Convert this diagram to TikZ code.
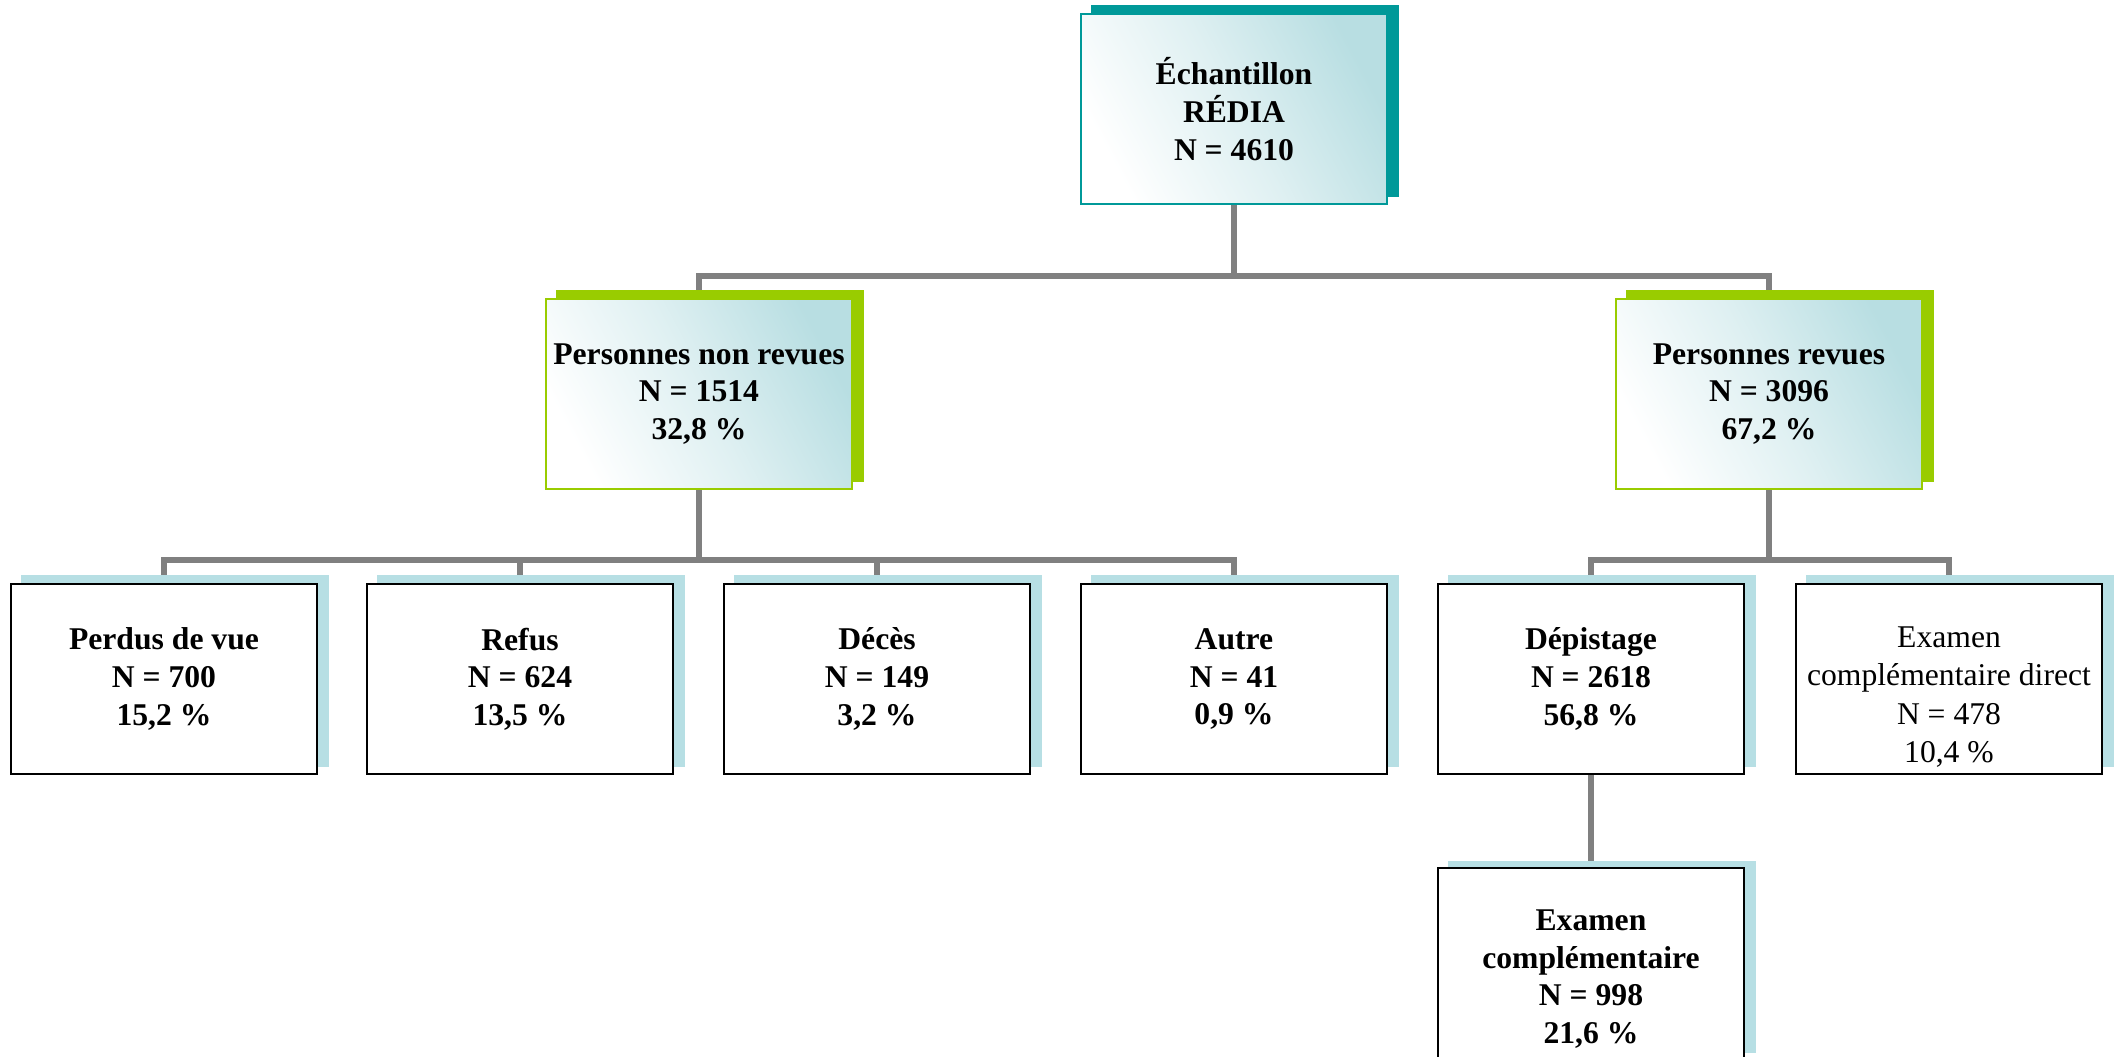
\documentclass[tikz,border=0pt]{standalone}
\usepackage{fontspec}
\setmainfont{Liberation Serif}
\usetikzlibrary{backgrounds,calc}
\definecolor{tealc}{RGB}{0,153,153}
\definecolor{greenc}{RGB}{153,204,0}
\definecolor{lblue}{RGB}{183,223,228}
\definecolor{gradc}{RGB}{184,222,226}
\definecolor{linec}{RGB}{128,128,128}
\begin{document}
\begin{tikzpicture}[x=0.01cm,y=-0.01cm,
  box/.style={rectangle, minimum width=3.06cm, minimum height=1.9cm, inner sep=0pt, align=center, line width=0.02cm},
  bftext/.style={font=\fontsize{9}{10.7}\selectfont\bfseries, align=center},
  rmtext/.style={font=\fontsize{9}{10.9}\selectfont, align=center},
  gradbox/.style={box, bftext, top color=gradc, bottom color=white, middle color=gradc!45!white, shading angle=-62},
  topbox/.style={gradbox, draw=tealc},
  midbox/.style={gradbox, draw=greenc},
  lowbox/.style={box, bftext, draw=black, fill=white},
  conn/.style={draw=linec, line width=0.055cm},
  ]
\useasboundingbox (0,0) rectangle (2114,1056);

% nodes
\node[topbox] (top) at (1234,109) {Échantillon\\RÉDIA\\N = 4610};
\node[midbox] (nr) at (699,394) {Personnes non revues\\N = 1514\\32,8 \%};
\node[midbox] (r) at (1769,394) {Personnes revues\\N = 3096\\67,2 \%};
\node[lowbox] (p1) at (164,679) {Perdus de vue\\N = 700\\15,2 \%};
\node[lowbox] (p2) at (520,679) {Refus\\N = 624\\13,5 \%};
\node[lowbox] (p3) at (877,679) {Décès\\N = 149\\3,2 \%};
\node[lowbox] (p4) at (1234,679) {Autre\\N = 41\\0,9 \%};
\node[lowbox] (p5) at (1591,679) {Dépistage\\N = 2618\\56,8 \%};
\node[lowbox] (p6) at (1949,679) {};
\node[rmtext] (t6) at (1949,697) {Examen\\complémentaire direct\\N = 478\\10,4 \%};
\node[lowbox] (p7) at (1591,963) {};
\node[bftext] (t7) at (1591,979) {Examen\\complémentaire\\N = 998\\21,6 \%};

\coordinate (b1) at (1234,276);
\coordinate (b2) at (699,560);
\coordinate (b3) at (1769,560);

\begin{scope}[on background layer]
  % connectors
  \draw[conn] (top.south) -- (b1);
  \draw[conn] (nr.north) |- (b1) -| (r.north);
  \draw[conn] (nr.south) -- (b2);
  \draw[conn] (p1.north) |- (b2) -| (p4.north);
  \draw[conn] (p2.north) -- (p2.north |- b2);
  \draw[conn] (p3.north) -- (p3.north |- b2);
  \draw[conn] (r.south) -- (b3);
  \draw[conn] (p5.north) |- (b3) -| (p6.north);
  \draw[conn] (p5.south) -- (p7.north);
  % shadows
  \fill[tealc] ($(top.south west)+(11,-8)$) rectangle ($(top.north east)+(11,-8)$);
  \foreach \n in {nr,r}
    \fill[greenc] ($(\n.south west)+(11,-8)$) rectangle ($(\n.north east)+(11,-8)$);
  \foreach \n in {p1,p2,p3,p4,p5,p6}
    \fill[lblue] ($(\n.south west)+(11,-8)$) rectangle ($(\n.north east)+(11,-8)$);
  \fill[lblue] ($(p7.south west)+(11,-6)$) rectangle ($(p7.north east)+(11,-6)$);
\end{scope}
\end{tikzpicture}
\end{document}
